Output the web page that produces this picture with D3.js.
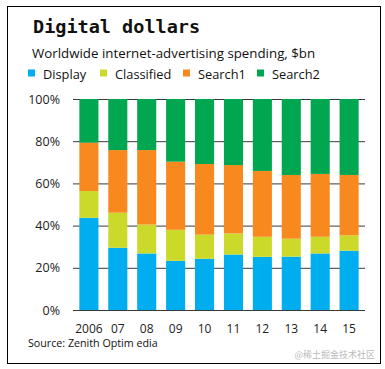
<!DOCTYPE html>
<html><head><meta charset="utf-8">
<script src="https://cdn.jsdelivr.net/npm/d3@7"></script>
<style>html,body{margin:0;padding:0;background:#fff;}</style>
</head><body>
<svg id="c" width="385" height="369"></svg>
<script>
const years = ["2006","07","08","09","10","11","12","13","14","15"];
const seriesNames = ["Display","Classified","Search1","Search2"];
const display    = [43.7, 29.5, 26.8, 23.3, 24.3, 26.3, 25.2, 25.3, 26.8, 28.1];
const classified = [12.7, 16.6, 13.7, 14.7, 11.4, 10.0,  9.5,  8.5,  7.9,  7.3];
const search1    = [22.9, 29.7, 35.3, 32.3, 33.5, 32.4, 31.2, 30.2, 29.8, 28.6];
const search2    = years.map((y,i)=>100 - display[i]-classified[i]-search1[i]);
const yTicks = [0,20,40,60,80,100];
const colors = ["#00aeef","#cbd92a","#f8891f","#00a650"];

const svg = d3.select("#c");
svg.append("rect").attr("x",7.5).attr("y",6.5).attr("width",373).attr("height",357)
  .attr("fill","#fff").attr("stroke","#000").attr("stroke-width",1);

const x = d3.scaleBand().domain(years).range([73,365]).paddingInner(0.34).paddingOuter(0.22);
const y = d3.scaleLinear().domain([0,100]).range([310,99]);

svg.append("g").selectAll("line").data(yTicks).join("line")
  .attr("x1",73).attr("x2",365).attr("y1",d=>y(d)+0.5).attr("y2",d=>y(d)+0.5)
  .attr("stroke","#3a3a3a").attr("stroke-width",1);

const table = years.map((yr,i)=>({year:yr, Display:display[i], Classified:classified[i], Search1:search1[i], Search2:search2[i]}));
const stack = d3.stack().keys(seriesNames)(table);
svg.append("g").selectAll("g").data(stack).join("g").attr("fill",(d,i)=>colors[i])
  .selectAll("rect").data(d=>d).join("rect")
  .attr("x",d=>x(d.data.year)).attr("width",x.bandwidth())
  .attr("y",d=>y(d[1])).attr("height",d=>y(d[0])-y(d[1]));

const font = "'Open Sans', 'Noto Sans', sans-serif";
svg.append("g").selectAll("text").data(yTicks).join("text")
  .attr("x",60).attr("y",d=>y(d)+4.5).attr("text-anchor","end")
  .attr("font-family",font).attr("font-size",12.5).attr("fill","#222")
  .text(d=>d+"%");
svg.append("g").selectAll("text").data(years).join("text")
  .attr("x",d=>x(d)+x.bandwidth()/2).attr("y",333).attr("text-anchor","middle")
  .attr("font-family",font).attr("font-size",12).attr("fill","#222")
  .text(d=>d);

svg.append("text").attr("x",33).attr("y",33).attr("font-family","'DejaVu Sans Mono', monospace")
  .attr("font-weight","bold").attr("font-size",18.5).attr("fill","#111").text("Digital dollars");
svg.append("text").attr("x",32).attr("y",58).attr("font-family",font)
  .attr("font-size",13.3).attr("fill","#111").text("Worldwide internet-advertising spending, $bn");

const legX = [28,100,183,257];
const lg = svg.append("g").selectAll("g").data(seriesNames).join("g")
  .attr("transform",(d,i)=>`translate(${legX[i]},0)`);
lg.append("rect").attr("x",0).attr("y",69.5).attr("width",7).attr("height",7).attr("fill",(d,i)=>colors[i]);
lg.append("text").attr("x",15).attr("y",79).attr("font-family",font).attr("font-size",12.8)
  .attr("fill","#111").text(d=>d);

svg.append("text").attr("x",28).attr("y",347).attr("font-family",font).attr("font-size",10.7)
  .attr("fill","#111").text("Source: Zenith Optim edia");
svg.append("text").attr("x",375).attr("y",358).attr("text-anchor","end")
  .attr("font-family","'Noto Sans CJK SC', sans-serif").attr("font-size",9).attr("fill","#bbb")
  .text("@稀土掘金技术社区");
</script>
</body></html>
